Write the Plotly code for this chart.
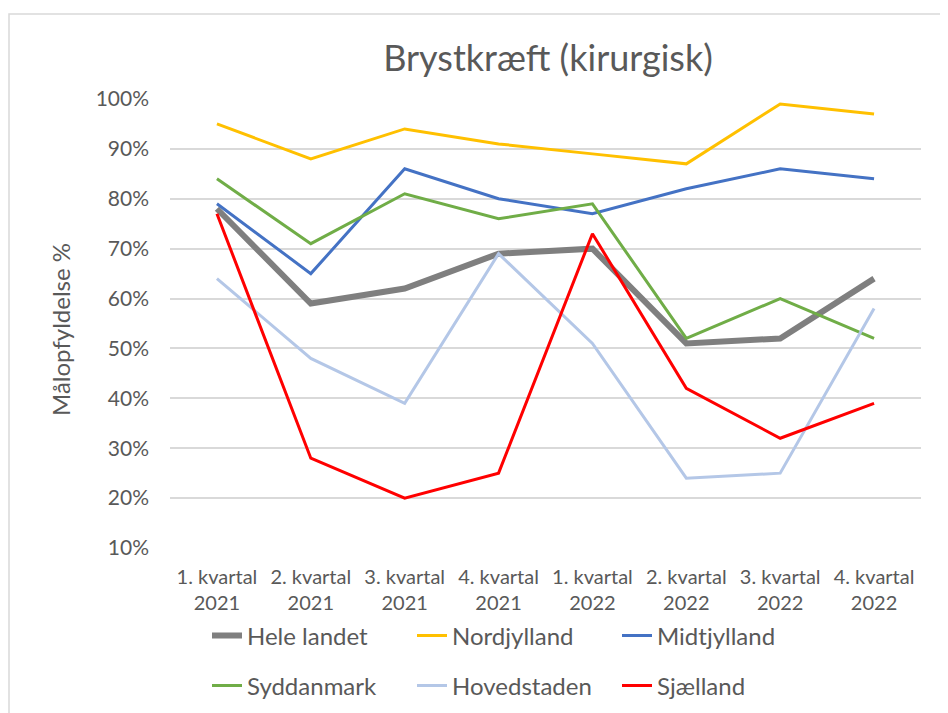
import plotly.graph_objects as go

categories = ["1. kvartal<br>2021", "2. kvartal<br>2021", "3. kvartal<br>2021", "4. kvartal<br>2021",
              "1. kvartal<br>2022", "2. kvartal<br>2022", "3. kvartal<br>2022", "4. kvartal<br>2022"]

hele_landet = [78, 59, 62, 69, 70, 51, 52, 64]
nordjylland = [95, 88, 94, 91, 89, 87, 99, 97]
midtjylland = [79, 65, 86, 80, 77, 82, 86, 84]
syddanmark = [84, 71, 81, 76, 79, 52, 60, 52]
hovedstaden = [64, 48, 39, 69, 51, 24, 25, 58]
sjaelland = [77, 28, 20, 25, 73, 42, 32, 39]

y_ticks = [10, 20, 30, 40, 50, 60, 70, 80, 90, 100]
y_ticklabels = [f"{v}%" for v in y_ticks]

series = [
    ("Hele landet", hele_landet, "#7F7F7F", 6, "legend"),
    ("Nordjylland", nordjylland, "#FFC000", 3, "legend"),
    ("Midtjylland", midtjylland, "#4472C4", 3, "legend"),
    ("Syddanmark", syddanmark, "#70AD47", 3, "legend2"),
    ("Hovedstaden", hovedstaden, "#B4C7E7", 3, "legend2"),
    ("Sjælland", sjaelland, "#FF0000", 3, "legend2"),
]

FONT = "Lato, 'Open Sans', sans-serif"
TXT = "#595959"

fig = go.Figure()
for name, vals, color, width, leg in series:
    fig.add_trace(go.Scatter(x=categories, y=vals, mode="lines", name=name,
                             line=dict(color=color, width=width), legend=leg))

OFF = 8  # browser body margin
W, H = 948 - OFF, 713 - OFF
# target page-pixel geometry of plot area
PL, PR, PT, PB = 170, 921, 99, 548
L, T = PL - OFF, PT - OFF
R, B = W - (PR - OFF), H - (PB - OFF)
pw, ph = PR - PL, PB - PT

def px_x(x):
    return (x - PL) / pw

def px_y(y):
    return (PB - y) / ph

fig.update_layout(
    width=W, height=H,
    margin=dict(l=L, r=R, t=T, b=B, autoexpand=False),
    paper_bgcolor="white", plot_bgcolor="white",
    font=dict(family=FONT, color=TXT, size=20),
    title=dict(text="Brystkræft (kirurgisk)", x=px_x(548), xref="paper", xanchor="center",
               y=1 - (58 - OFF) / H, yanchor="middle", font=dict(size=36, color=TXT, family=FONT)),
    xaxis=dict(showgrid=False, showline=False, zeroline=False, tickfont=dict(size=20, color=TXT),
               ticklabelstandoff=15, range=[-0.5, 7.5]),
    yaxis=dict(range=[10, 100], tickvals=y_ticks, ticktext=y_ticklabels, showgrid=True,
               gridcolor="#D9D9D9", gridwidth=1.5, zeroline=False, showline=False,
               tickfont=dict(size=21, color=TXT), ticklabelstandoff=20),
    legend=dict(orientation="h", x=px_x(207), xanchor="left", y=px_y(636), yanchor="middle",
                font=dict(size=24, color=TXT), entrywidth=160, bgcolor="rgba(0,0,0,0)"),
    legend2=dict(orientation="h", x=px_x(207), xanchor="left", y=px_y(686), yanchor="middle",
                 font=dict(size=24, color=TXT), entrywidth=160, bgcolor="rgba(0,0,0,0)"),
    showlegend=True,
    annotations=[dict(text="Målopfyldelse %", textangle=-90, xref="paper", yref="paper",
                      x=px_x(60), y=px_y(330), xanchor="center", yanchor="middle",
                      showarrow=False, font=dict(size=24, color=TXT, family=FONT))],
    shapes=[dict(type="rect", xref="paper", yref="paper", x0=px_x(9), x1=px_x(960),
                 y0=px_y(730), y1=px_y(14), line=dict(color="#D9D9D9", width=1.5),
                 fillcolor="rgba(0,0,0,0)", layer="below")],
)

fig.write_html("out.html")
